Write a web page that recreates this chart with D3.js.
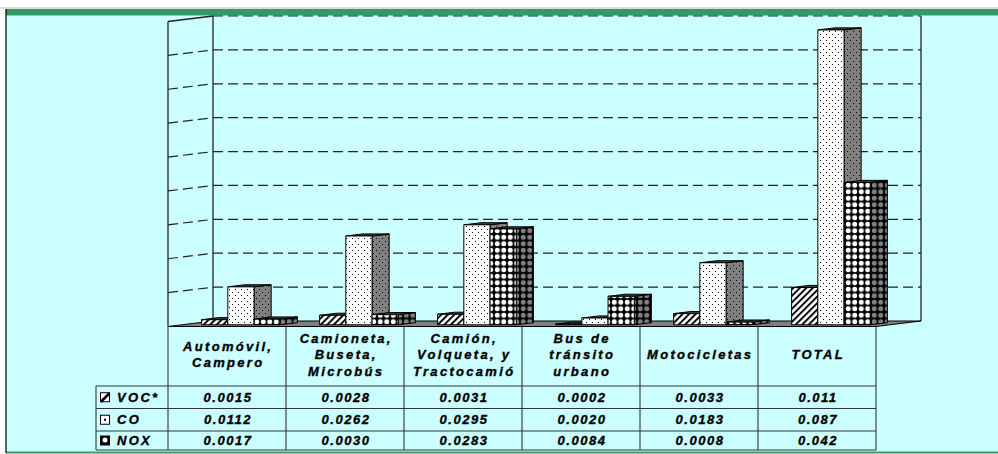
<!DOCTYPE html>
<meta charset="utf-8">
<style>
body { margin: 0; background: #fff; }
text { font-family: "Liberation Sans", Arial, sans-serif; font-weight: bold; font-style: italic; font-size: 13px; fill: #000; stroke: #000; stroke-width: 0.35px; }
</style>
<body>
<script src="https://d3js.org/d3.v7.min.js"></script>
<script>

// data
var categories = ["Automóvil, Campero", "Camioneta, Buseta, Microbús", "Camión, Volqueta, y Tractocamió",
                  "Bus de tránsito urbano", "Motocicletas", "TOTAL"];
var headerLines = [["Automóvil,", "Campero"], ["Camioneta,", "Buseta,", "Microbús"],
                   ["Camión,", "Volqueta, y", "Tractocamió"], ["Bus de", "tránsito", "urbano"],
                   ["Motocicletas"], ["TOTAL"]];
var seriesNames = ["VOC*", "CO", "NOX"];
var vocValues = [0.0015, 0.0028, 0.0031, 0.0002, 0.0033, 0.011];
var coValues  = [0.0112, 0.0262, 0.0295, 0.0020, 0.0183, 0.087];
var noxValues = [0.0017, 0.0030, 0.0283, 0.0084, 0.0008, 0.042];
var yTicks = [0.01, 0.02, 0.03, 0.04, 0.05, 0.06, 0.07, 0.08, 0.09];

var series = [vocValues, coValues, noxValues];

var W = 998, H = 454;

// plot geometry (front plane + depth vector)
var left = 168, right = 876, floorY = 326.5, topY = 21.5;
var depthX = 45, depthY = -5.5;
var d1 = 0.31, d2 = 0.69;   // bars sit in the middle of the depth

var x = d3.scaleBand().domain(categories).range([left, right])
    .paddingInner(1 / 3).paddingOuter(1 / 6);
var xs = d3.scaleBand().domain(seriesNames).range([0, x.bandwidth()]);
var y = d3.scaleLinear().domain([0, 0.09]).range([floorY, topY]);
var step = (right - left) / categories.length;

var svg = d3.select("body").append("svg")
    .attr("width", W)
    .attr("height", H);

var defs = svg.append("defs");

// hatch for VOC
function hatch(id, bg) {
  var p = defs.append("pattern").attr("id", id)
      .attr("patternUnits", "userSpaceOnUse")
      .attr("width", 4.6).attr("height", 4.6)
      .attr("patternTransform", "rotate(45)");
  p.append("rect").attr("width", 4.6).attr("height", 4.6).attr("fill", bg);
  p.append("line").attr("x1", 1).attr("y1", 0).attr("x2", 1).attr("y2", 4.6)
      .attr("stroke", "#000").attr("stroke-width", 1.9);
}
hatch("voc-front", "#fff");
hatch("voc-side", "#808080");

// small dots for CO
function dots(id, bg) {
  var p = defs.append("pattern").attr("id", id)
      .attr("patternUnits", "userSpaceOnUse")
      .attr("width", 6).attr("height", 6);
  p.append("rect").attr("width", 6).attr("height", 6).attr("fill", bg);
  p.append("rect").attr("x", 1).attr("y", 1).attr("width", 1).attr("height", 1).attr("fill", "#000");
  p.append("rect").attr("x", 4).attr("y", 4).attr("width", 1).attr("height", 1).attr("fill", "#000");
}
dots("co-front", "#fff");
dots("co-side", "#808080");

// circles for NOX
function circles(id, fg) {
  var p = defs.append("pattern").attr("id", id)
      .attr("patternUnits", "userSpaceOnUse")
      .attr("width", 6.5).attr("height", 6.5);
  p.append("rect").attr("width", 6.5).attr("height", 6.5).attr("fill", "#000");
  p.append("circle").attr("cx", 3.25).attr("cy", 3.25).attr("r", 2.5).attr("fill", fg);
}
circles("nox-front", "#fff");
circles("nox-side", "#808080");

var fronts = ["url(#voc-front)", "url(#co-front)", "url(#nox-front)"];
var sides = ["url(#voc-side)", "url(#co-side)", "url(#nox-side)"];

// page frame
svg.append("rect").attr("x", 6).attr("y", 9).attr("width", W - 6).attr("height", 443.5)
    .attr("fill", "#ccffff");
svg.append("line").attr("x1", 0).attr("x2", W).attr("y1", 8).attr("y2", 8)
    .attr("stroke", "#bbb").attr("stroke-width", 1);
svg.append("rect").attr("x", 6).attr("y", 9).attr("width", W - 6).attr("height", 6.5)
    .attr("fill", "#339966");
svg.append("rect").attr("x", 6).attr("y", 451.5).attr("width", W - 6).attr("height", 2)
    .attr("fill", "#3a9a6a");
svg.append("line").attr("x1", 6).attr("x2", 6).attr("y1", 9).attr("y2", 453)
    .attr("stroke", "#000").attr("stroke-width", 1.2);

// walls
var bx0 = left + depthX, bx1 = right + depthX;
var yb = function(v) { return y(v) + depthY; };

svg.append("path")
    .attr("d", "M" + left + "," + y(0) + "L" + bx0 + "," + yb(0) + "L" + bx0 + "," + yb(0.09) +
               "L" + left + "," + y(0.09) + "Z")
    .attr("fill", "#ccffff");

var grid = svg.append("g")
    .attr("stroke", "#222").attr("stroke-width", 1.2).attr("stroke-dasharray", "10,5").attr("fill", "none");
grid.selectAll("line.back")
  .data(yTicks)
  .enter().append("line")
    .attr("class", "back")
    .attr("x1", bx0).attr("x2", bx1)
    .attr("y1", function(d) { return yb(d); })
    .attr("y2", function(d) { return yb(d); });
grid.selectAll("line.side")
  .data(yTicks.slice(0, -1))
  .enter().append("line")
    .attr("class", "side")
    .attr("x1", left).attr("x2", bx0 - 3)
    .attr("y1", function(d) { return y(d); })
    .attr("y2", function(d) { return yb(d) + 0.4; });

var edges = svg.append("g").attr("stroke", "#222").attr("stroke-width", 1.3).attr("fill", "none");
edges.append("line").attr("x1", bx0).attr("x2", bx0).attr("y1", yb(0)).attr("y2", yb(0.09));
edges.append("line").attr("x1", bx1).attr("x2", bx1).attr("y1", yb(0)).attr("y2", yb(0.09));
edges.append("line").attr("x1", left).attr("x2", left).attr("y1", y(0)).attr("y2", y(0.09));
edges.append("line").attr("x1", left).attr("x2", bx0).attr("y1", y(0.09)).attr("y2", yb(0.09));

// floor
svg.append("path")
    .attr("d", "M" + left + "," + y(0) + "L" + right + "," + y(0) + "L" + bx1 + "," + yb(0) +
               "L" + bx0 + "," + yb(0) + "Z")
    .attr("fill", "#808080").attr("stroke", "#000").attr("stroke-width", 1);

// bars
var bars = svg.append("g").attr("stroke", "#000").attr("stroke-width", 1).attr("stroke-linejoin", "round");
var ddx = (d2 - d1) * depthX, ddy = (d2 - d1) * depthY;

categories.forEach(function(c, i) {
  series.forEach(function(vals, s) {
    var v = vals[i];
    var x0 = x(c) + xs(seriesNames[s]) + d1 * depthX;
    var x1 = x0 + xs.bandwidth();
    var y0 = y(0) + d1 * depthY;
    var yt = y(v) + d1 * depthY;
    bars.append("path")
        .attr("d", "M" + x1 + "," + y0 + "L" + (x1 + ddx) + "," + (y0 + ddy) + "L" + (x1 + ddx) + "," +
                   (yt + ddy) + "L" + x1 + "," + yt + "Z")
        .attr("fill", sides[s]);
    bars.append("path")
        .attr("d", "M" + x0 + "," + yt + "L" + x1 + "," + yt + "L" + (x1 + ddx) + "," + (yt + ddy) +
                   "L" + (x0 + ddx) + "," + (yt + ddy) + "Z")
        .attr("fill", "#404040");
    bars.append("rect")
        .attr("x", x0).attr("y", yt)
        .attr("width", xs.bandwidth())
        .attr("height", y0 - yt)
        .attr("fill", fronts[s]);
  });
});

// data table
var rowY = [386, 408.5, 431, 450];
var keyLeft = 96;
var table = svg.append("g").attr("stroke", "#333").attr("stroke-width", 1.1);

d3.range(categories.length + 1).forEach(function(k) {
  table.append("line")
      .attr("x1", left + k * step).attr("x2", left + k * step)
      .attr("y1", floorY).attr("y2", rowY[3]);
});
rowY.forEach(function(r) {
  table.append("line").attr("x1", keyLeft).attr("x2", right).attr("y1", r).attr("y2", r);
});
table.append("line").attr("x1", keyLeft).attr("x2", keyLeft).attr("y1", rowY[0]).attr("y2", rowY[3]);

// header labels
var hdr = svg.append("g").attr("text-anchor", "middle").style("letter-spacing", "2.3px");
headerLines.forEach(function(lines, i) {
  var cx = left + (i + 0.5) * step + 1.2;
  lines.forEach(function(t, j) {
    hdr.append("text")
        .attr("x", cx)
        .attr("y", 354.5 + (j - (lines.length - 1) / 2) * 16.5 + 4.6)
        .text(t);
  });
});

// values
var fmt4 = d3.format(".4f"), fmt3 = d3.format(".3f");
var vals = svg.append("g").attr("text-anchor", "middle").style("letter-spacing", "1.5px");
series.forEach(function(arr, s) {
  var cy = (rowY[s] + rowY[s + 1]) / 2 + 4.6;
  arr.forEach(function(v, i) {
    vals.append("text")
        .attr("x", left + (i + 0.5) * step + 1)
        .attr("y", cy)
        .text(i === categories.length - 1 ? fmt3(v) : fmt4(v));
  });

  // legend key
  var ky = (rowY[s] + rowY[s + 1]) / 2;
  var key = svg.append("g");
  if (s === 0) {
    key.append("rect").attr("x", 100.5).attr("y", ky - 4.5).attr("width", 9).attr("height", 9)
        .attr("fill", "#fff").attr("stroke", "#000");
    key.append("line").attr("x1", 101).attr("y1", ky + 4.5).attr("x2", 109.5).attr("y2", ky - 4)
        .attr("stroke", "#000").attr("stroke-width", 2.5);
  } else if (s === 1) {
    key.append("rect").attr("x", 100.5).attr("y", ky - 4.5).attr("width", 9).attr("height", 9)
        .attr("fill", "#fff").attr("stroke", "#000");
    key.append("rect").attr("x", 104).attr("y", ky - 1).attr("width", 2).attr("height", 2).attr("fill", "#000");
  } else {
    key.append("rect").attr("x", 100.5).attr("y", ky - 4.5).attr("width", 9).attr("height", 9)
        .attr("fill", "#000").attr("stroke", "#000");
    key.append("circle").attr("cx", 105).attr("cy", ky - 0.5).attr("r", 2.5).attr("fill", "#fff");
  }
  svg.append("text")
      .attr("x", 117)
      .attr("y", ky + 4.6)
      .style("letter-spacing", "2.3px")
      .text(seriesNames[s]);
});

</script>
</body>
